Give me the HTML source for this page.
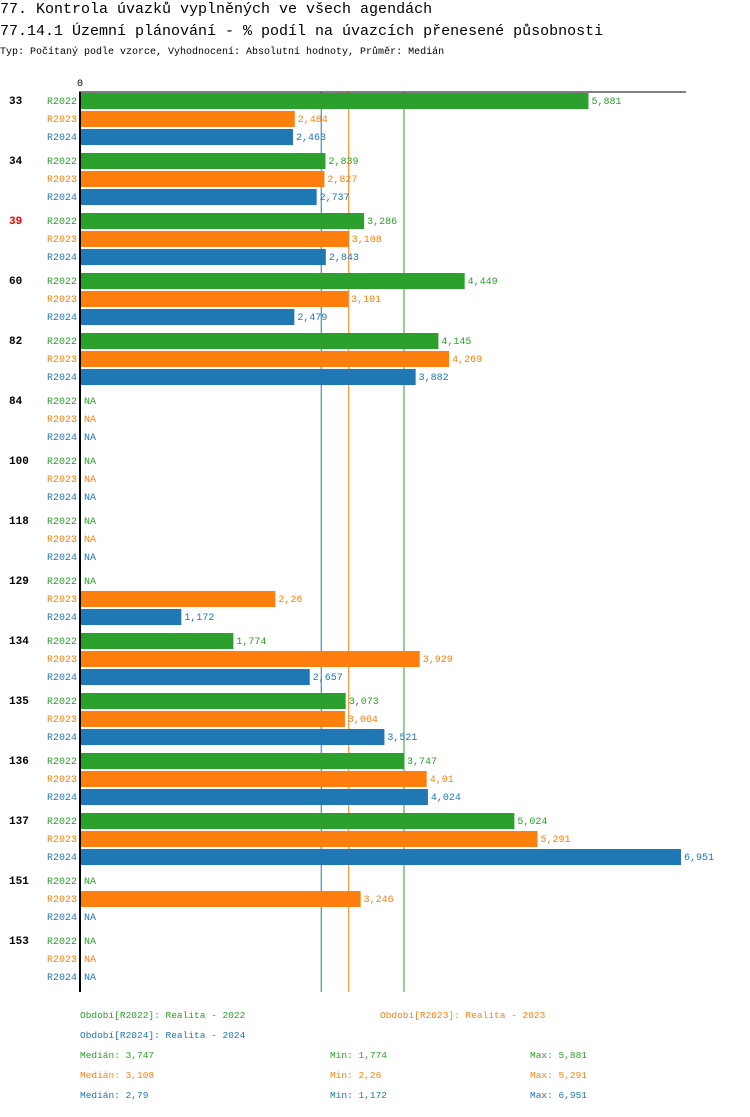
<!DOCTYPE html>
<html><head><meta charset="utf-8"><style>
body{margin:0;background:#fff;width:750px;height:1112px;overflow:hidden;font-family:"Liberation Mono",monospace}
</style></head><body>
<svg width="750" height="1112" font-family="Liberation Mono, monospace">
<text x="0" y="13" font-size="15">77. Kontrola úvazků vyplněných ve všech agendách</text>
<text x="0" y="35" font-size="15">77.14.1 Územní plánování - % podíl na úvazcích přenesené působnosti</text>
<text x="0" y="54" font-size="10">Typ: Počítaný podle vzorce, Vyhodnocení: Absolutní hodnoty, Průměr: Medián</text>
<g id="plot"></g>
</svg>
<script>
const categories=["33","34","39","60","82","84","100","118","129","134","135","136","137","151","153"];
const highlighted=["39"];
const seriesNames=["R2022","R2023","R2024"];
const r2022=[5.881,2.839,3.286,4.449,4.145,null,null,null,null,1.774,3.073,3.747,5.024,null,null];
const r2023=[2.484,2.827,3.108,3.101,4.269,null,null,null,2.26,3.929,3.064,4.01,5.291,3.246,null];
const r2024=[2.463,2.737,2.843,2.479,3.882,null,null,null,1.172,2.657,3.521,4.024,6.951,null,null];
const medians=[3.747,3.108,2.79];
const mins=[1.774,2.26,1.172];
const maxs=[5.881,5.291,6.951];
const colors=["#2ca02c","#ff7f0e","#1f77b4"];
const NS="http://www.w3.org/2000/svg";
const g=document.getElementById('plot');
const x0=80, scale=601/6.951;
const xs=v=>x0+v*scale;
const groupY=i=>92+i*60;
function el(t,a,txt){const e=document.createElementNS(NS,t);for(const k in a)e.setAttribute(k,a[k]);if(txt!=null)e.textContent=txt;g.appendChild(e);return e;}
const fmt=v=>String(v).replace('.',',');
const series=[r2022,r2023,r2024];
medians.forEach((m,s)=>{
  const l=el('line',{x1:xs(m),x2:xs(m),y1:92,y2:992,stroke:colors[s],'stroke-width':1});
  
  
});
categories.forEach((c,i)=>{
  const gy=groupY(i);
  const t=el('text',{x:9,y:gy+12,'font-size':11,'font-weight':'bold',fill:highlighted.includes(c)?'#e00':'#000'},c);
  
  
  series.forEach((arr,s)=>{
    const y=gy+1+s*18, v=arr[i];
    const lb=el('text',{x:47,y:y+11,'font-size':10,fill:colors[s]},seriesNames[s]);
    
    
    if(v==null){
      const na=el('text',{x:84,y:y+11,'font-size':10,fill:colors[s]},'NA');
      
      
    } else {
      const r=el('rect',{x:x0,y:y,width:xs(v)-x0,height:16,fill:colors[s]});
      
      
      const vt=el('text',{x:xs(v)+3,y:y+11,'font-size':10,fill:colors[s]},fmt(v));
      
      
    }
  });
});
const ax=el('line',{x1:80,x2:80,y1:92,y2:992,stroke:'#000','stroke-width':2});


const tx=el('line',{x1:79,x2:686,y1:92,y2:92,stroke:'#000','stroke-width':1});


const z=el('text',{x:77,y:86,'font-size':10},'0');


const legendItems=[[80,1018,0,'Období[R2022]: Realita - 2022'],[380,1018,1,'Období[R2023]: Realita - 2023'],[80,1038,2,'Období[R2024]: Realita - 2024']];
legendItems.forEach(([x,y,s,t])=>{
  const e=el('text',{x:x,y:y,'font-size':9.5,fill:colors[s]},t);
  
  
});
[0,1,2].forEach(s=>{
  const y=1058+s*20;
  const a=el('text',{x:80,y:y,'font-size':9.5,fill:colors[s]},'Medián: '+fmt(medians[s]));
  
  
  const b=el('text',{x:330,y:y,'font-size':9.5,fill:colors[s]},'Min: '+fmt(mins[s]));
  
  
  const d=el('text',{x:530,y:y,'font-size':9.5,fill:colors[s]},'Max: '+fmt(maxs[s]));
  
  
});
</script>
</body></html>
